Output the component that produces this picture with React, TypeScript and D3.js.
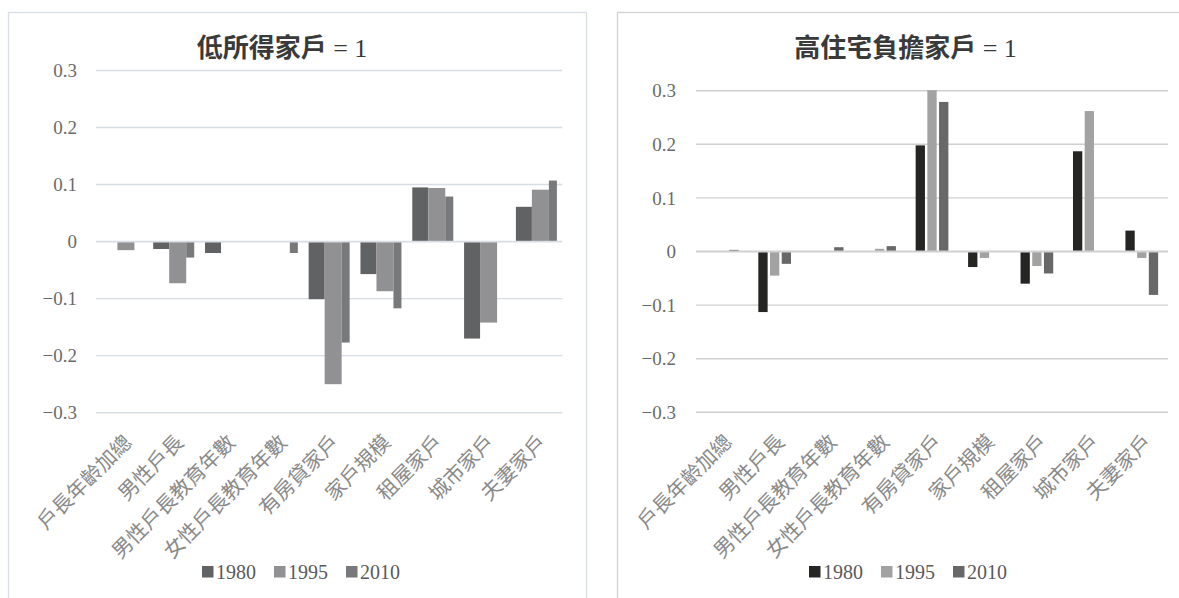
import React from 'react';
import * as d3 from 'd3';

const categories = ['戶長年齡加總', '男性戶長', '男性戶長教育年數', '女性戶長教育年數', '有房貸家戶', '家戶規模', '租屋家戶', '城市家戶', '夫妻家戶'];
const seriesNames = ['1980', '1995', '2010'];
const yTicks = [0.3, 0.2, 0.1, 0, -0.1, -0.2, -0.3];

const low1980 = [0, -0.013, -0.02, 0, -0.101, -0.057, 0.095, -0.17, 0.061];
const low1995 = [-0.015, -0.073, 0, 0, -0.25, -0.087, 0.094, -0.142, 0.091];
const low2010 = [0, -0.028, 0, -0.02, -0.177, -0.117, 0.079, 0, 0.107];

const high1980 = [0, -0.113, 0, 0, 0.198, -0.029, -0.06, 0.187, 0.039];
const high1995 = [0, -0.045, 0, 0.005, 0.301, -0.012, -0.027, 0.262, -0.012];
const high2010 = [0.003, -0.023, 0.008, 0.01, 0.279, 0, -0.041, 0, -0.081];

const SERIF = '"Liberation Serif", "Times New Roman", "Noto Sans CJK TC", serif';
const CJK = '"Noto Sans CJK TC", "Noto Sans CJK SC", sans-serif';

type PanelCfg = {
  title: string;
  titleX: number;
  frameX: number;
  frameColor: string;
  gridColor: string;
  plotX0: number;
  plotX1: number;
  plotY0: number;
  plotY1: number;
  tickX: number;
  colors: string[];
  data: number[][];
  barMode: 'left' | 'right';
  legendX: number;
};

const LEFT_WIDTHS = [16, 17, 8];

function Panel({ cfg }: { cfg: PanelCfg }) {
  const x = d3.scaleBand<string>().domain(categories).range([cfg.plotX0, cfg.plotX1]).padding(0);
  const y = d3.scaleLinear().domain([-0.3, 0.3]).range([cfg.plotY0, cfg.plotY1]);
  const inner = d3.scaleBand<string>().domain(seriesNames).range([-16.35, 16.35]).paddingInner(0.205).paddingOuter(0);
  const leftTotal = d3.sum(LEFT_WIDTHS);

  const bars: JSX.Element[] = [];
  categories.forEach((c, ci) => {
    const cx = (x(c) as number) + x.bandwidth() / 2;
    seriesNames.forEach((s, si) => {
      const v = cfg.data[si][ci];
      if (!v) return;
      let bx: number;
      let bw: number;
      if (cfg.barMode === 'left') {
        bx = cx - leftTotal / 2 + d3.sum(LEFT_WIDTHS.slice(0, si));
        bw = LEFT_WIDTHS[si];
      } else {
        bx = cx + (inner(s) as number);
        bw = inner.bandwidth();
      }
      const y0 = y(0);
      const y1 = y(v);
      bars.push(
        <rect key={c + s} x={bx} y={Math.min(y0, y1)} width={bw} height={Math.abs(y1 - y0)} fill={cfg.colors[si]} />
      );
    });
  });

  const legendItems = [
    { s: seriesNames[0], dx: 0 },
    { s: seriesNames[1], dx: 72 },
    { s: seriesNames[2], dx: 144 },
  ];

  return (
    <g>
      <rect x={cfg.frameX + 0.5} y={12.5} width={578} height={620} fill="#fff" stroke={cfg.frameColor} strokeWidth={1.3} />
      <text x={cfg.titleX} y={57} textAnchor="middle" fill="#3a3a3a" fontSize={26}>
        <tspan fontFamily={CJK} fontWeight={700}>{cfg.title}</tspan>
        <tspan fontFamily={SERIF}> = 1</tspan>
      </text>
      {yTicks.map((t) => (
        <g key={t}>
          {t !== 0 && (
            <line x1={cfg.plotX0} x2={cfg.plotX1} y1={y(t)} y2={y(t)} stroke={cfg.gridColor} strokeWidth={1.4} />
          )}
          <text x={cfg.tickX} y={y(t)} dy="0.35em" textAnchor="end" fontFamily={SERIF} fontSize={19} fill="#6a6a6a">
            {t === 0 ? '0' : d3.format('.1f')(t)}
          </text>
        </g>
      ))}
      {bars}
      <line x1={cfg.plotX0} x2={cfg.plotX1} y1={y(0)} y2={y(0)} stroke={cfg.gridColor} strokeWidth={1.8} />
      {categories.map((c) => {
        const cx = (x(c) as number) + x.bandwidth() / 2;
        return (
          <text
            key={c}
            transform={`translate(${cx + 11},${cfg.plotY0 + 31}) rotate(-45)`}
            textAnchor="end"
            fontFamily={CJK}
            fontSize={20.5}
            fill="#8a8a8a"
          >
            {c}
          </text>
        );
      })}
      {legendItems.map((it, i) => (
        <g key={it.s} transform={`translate(${cfg.legendX + it.dx},572)`}>
          <rect x={0} y={-6} width={11.5} height={11.5} fill={cfg.colors[i]} />
          <text x={14} y={0} dy="0.35em" fontFamily={SERIF} fontSize={20} fill="#5a5a5a">
            {it.s}
          </text>
        </g>
      ))}
    </g>
  );
}

const leftCfg: PanelCfg = {
  title: '低所得家戶',
  titleX: 282,
  frameX: 8,
  frameColor: '#d9dee7',
  gridColor: '#d8dce4',
  plotX0: 96,
  plotX1: 562.3,
  plotY0: 412.7,
  plotY1: 70.5,
  tickX: 77,
  colors: ['#616264', '#919193', '#78797b'],
  data: [low1980, low1995, low2010],
  barMode: 'left',
  legendX: 202,
};

const rightCfg: PanelCfg = {
  title: '高住宅負擔家戶',
  titleX: 905.5,
  frameX: 617,
  frameColor: '#d2d2d2',
  gridColor: '#d0d0d0',
  plotX0: 696,
  plotX1: 1168,
  plotY0: 412.3,
  plotY1: 90.7,
  tickX: 676,
  colors: ['#252523', '#a2a2a2', '#686868'],
  data: [high1980, high1995, high2010],
  barMode: 'right',
  legendX: 809,
};

export default function App() {
  return (
    <div style={{ position: 'absolute', left: 0, top: 0 }}>
      <svg width={1179} height={598} style={{ display: 'block', background: '#fff' }}>
        <Panel cfg={leftCfg} />
        <Panel cfg={rightCfg} />
      </svg>
    </div>
  );
}
